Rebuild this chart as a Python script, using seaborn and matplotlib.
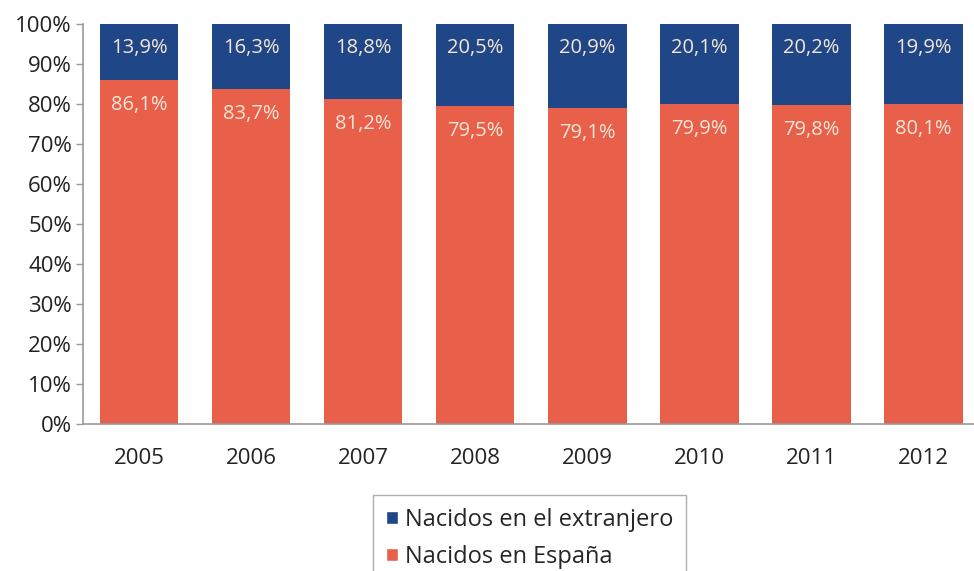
import numpy as np
import pandas as pd
import matplotlib.pyplot as plt
import seaborn as sns
from matplotlib.patches import Patch

# data
years = ['2005', '2006', '2007', '2008', '2009', '2010', '2011', '2012']
espana = [86.1, 83.7, 81.2, 79.5, 79.1, 79.9, 79.8, 80.1]
extranjero = [13.9, 16.3, 18.8, 20.5, 20.9, 20.1, 20.2, 19.9]

blue = '#1f4787'
orange = '#e8604a'
txt = '#f6e6d8'

df = pd.DataFrame({'year': years, 'espana': espana, 'extranjero': extranjero})
df['total'] = df['espana'] + df['extranjero']

sns.set_style('white')
plt.rcParams['font.family'] = ['Open Sans', 'DejaVu Sans']

fig = plt.figure(figsize=(9.74, 5.71), dpi=100)
ax = fig.add_axes([83 / 974, 1 - 424 / 571, (974 - 83) / 974, 400 / 571])

# blue stacked on top: draw full height first, then orange over it
sns.barplot(data=df, x='year', y='total', color=blue, width=0.705, saturation=1, ax=ax)
sns.barplot(data=df, x='year', y='espana', color=orange, width=0.705, saturation=1, ax=ax)
for p in ax.patches:
    p.set_edgecolor('none')

for i in range(len(years)):
    ax.annotate(f"{extranjero[i]:.1f}%".replace('.', ','), (i, df['total'][i]),
                xytext=(0, -17), textcoords='offset points', ha='center', va='center',
                color=txt, fontsize=14.5)
    ax.annotate(f"{espana[i]:.1f}%".replace('.', ','), (i, espana[i]),
                xytext=(0, -18), textcoords='offset points', ha='center', va='center',
                color=txt, fontsize=14.5)

ax.set_ylim(0, 100)
ax.set_xlim(-0.5, 7.455)
ax.set_yticks(np.arange(0, 101, 10))
ax.set_yticklabels([f"{v}%" for v in range(0, 101, 10)], fontsize=16, color='#222222')
ax.set_xticklabels(years, fontsize=16, color='#222222')
ax.set_xticks(np.arange(0.5, 7, 1), minor=True)
ax.tick_params(axis='x', which='major', length=0, pad=17)
ax.tick_params(axis='x', which='minor', length=5, color='#999999', width=1)
ax.tick_params(axis='y', length=5, color='#999999', width=1, pad=3, left=True)
ax.set_xlabel('')
ax.set_ylabel('')
for s in ['top', 'right']:
    ax.spines[s].set_visible(False)
for s in ['left', 'bottom']:
    ax.spines[s].set_color('#999999')
    ax.spines[s].set_linewidth(1.2)

handles = [Patch(facecolor=blue, label='Nacidos en el extranjero'),
           Patch(facecolor=orange, label='Nacidos en España')]
leg = fig.legend(handles=handles, loc='upper left', bbox_to_anchor=(373 / 974, 1 - 495 / 571),
                 fontsize=17, frameon=True, fancybox=False, edgecolor='#999999',
                 handlelength=0.5, handleheight=0.5, handletextpad=0.3,
                 labelspacing=0.55, borderpad=0.55, borderaxespad=0)
leg.get_frame().set_linewidth(1)

fig.savefig('out.png', dpi=100)
